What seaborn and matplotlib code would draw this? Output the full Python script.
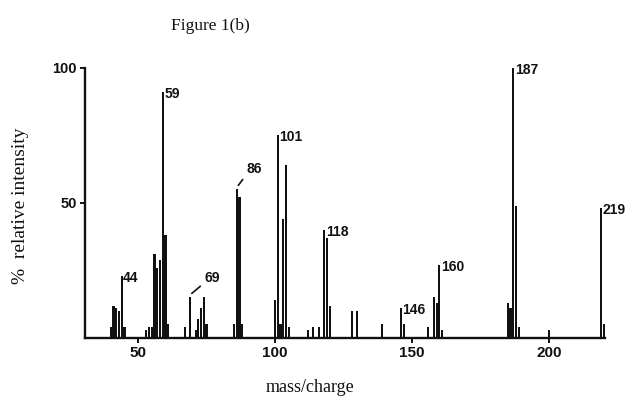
import matplotlib
matplotlib.use("Agg")
import matplotlib.pyplot as plt
import pandas as pd
import seaborn as sns

# ---- data ----
mass_charge = [40, 41, 42, 43, 44, 45,
               53, 54, 55, 56, 57, 58, 59, 60, 61,
               67, 69, 71, 72, 73, 74, 75,
               85, 86, 87, 88,
               100, 101, 102, 103, 104, 105,
               112, 114, 116, 118, 119, 120,
               128, 130, 139,
               146, 147, 156, 158, 159, 160, 161,
               185, 186, 187, 188, 189,
               200, 219, 220]
rel_intensity = [4, 12, 11, 10, 23, 4,
                 3, 4, 4, 31, 26, 29, 91, 38, 5,
                 4, 15, 3, 7, 11, 15, 5,
                 5, 55, 52, 5,
                 14, 75, 5, 44, 64, 4,
                 3, 4, 4, 40, 37, 12,
                 10, 10, 5,
                 11, 5, 4, 15, 13, 27, 3,
                 13, 11, 100, 49, 4,
                 3, 48, 5]
labelled_direct = [44, 59, 101, 118, 146, 160, 187, 219]
labelled_leader = [69, 86]
x_ticks = [50, 100, 150, 200]
y_ticks = [50, 100]
title_text = "Figure 1(b)"
x_title = "mass/charge"
y_title = "%  relative intensity"

df = pd.DataFrame({"mz": mass_charge, "intensity": rel_intensity})
lookup = dict(zip(mass_charge, rel_intensity))

sns.set_style("ticks")
plt.rcParams["font.family"] = ["Liberation Sans", "DejaVu Sans"]

fig = plt.figure(figsize=(6.25, 3.99), dpi=100)
ax = fig.add_axes([0.136, 0.153, 0.832, 0.677])

sns.barplot(data=df, x="mz", y="intensity", native_scale=True, width=0.8,
            color="#111111", saturation=1, errorbar=None, linewidth=0,
            ax=ax)

ax.set_xlim(30.6, 220.5)
ax.set_ylim(0, 100)
ax.set_xticks(x_ticks)
ax.set_yticks(y_ticks)
ax.set_xticklabels([str(t) for t in x_ticks], fontweight="bold", fontsize=11)
ax.set_yticklabels([str(t) for t in y_ticks], fontweight="bold", fontsize=10.5)
ax.tick_params(axis="both", direction="out", length=3.5, width=1.4, pad=2.5,
               color="#111111", labelcolor="#111111")
ax.set_xlabel("")
ax.set_ylabel("")
for side in ["top", "right"]:
    ax.spines[side].set_visible(False)
for side in ["left", "bottom"]:
    ax.spines[side].set_linewidth(1.7)
    ax.spines[side].set_color("#111111")
for p in ax.patches:
    p.set_clip_on(False)

for m in labelled_direct:
    ax.annotate(str(m), xy=(m, lookup[m]), xytext=(1.0, -1.5),
                textcoords="offset points", ha="left", va="center",
                fontsize=10, fontweight="bold", color="#111111",
                annotation_clip=False)

leader_pos = {69: (74.3, 22.3), 86: (89.7, 62.5)}
for m in labelled_leader:
    ax.annotate(str(m), xy=(m + 0.6, lookup[m] + 1.5), xytext=leader_pos[m],
                textcoords="data", ha="left", va="center",
                fontsize=10, fontweight="bold", color="#111111",
                arrowprops=dict(arrowstyle="-", lw=1.2, color="#111111",
                                shrinkA=1, shrinkB=0, relpos=(0, 0.15)))

serif = ["Liberation Serif", "DejaVu Serif"]
fig.text(0.336, 0.935, title_text, family=serif, fontsize=12.5,
         ha="center", va="center", color="#111111")
fig.text(0.496, 0.028, x_title, family=serif, fontsize=13,
         ha="center", va="center", color="#111111")
fig.text(0.033, 0.485, y_title, family=serif, fontsize=14, rotation=90,
         ha="center", va="center", color="#111111")

fig.savefig("out.png", dpi=100, facecolor="white")
